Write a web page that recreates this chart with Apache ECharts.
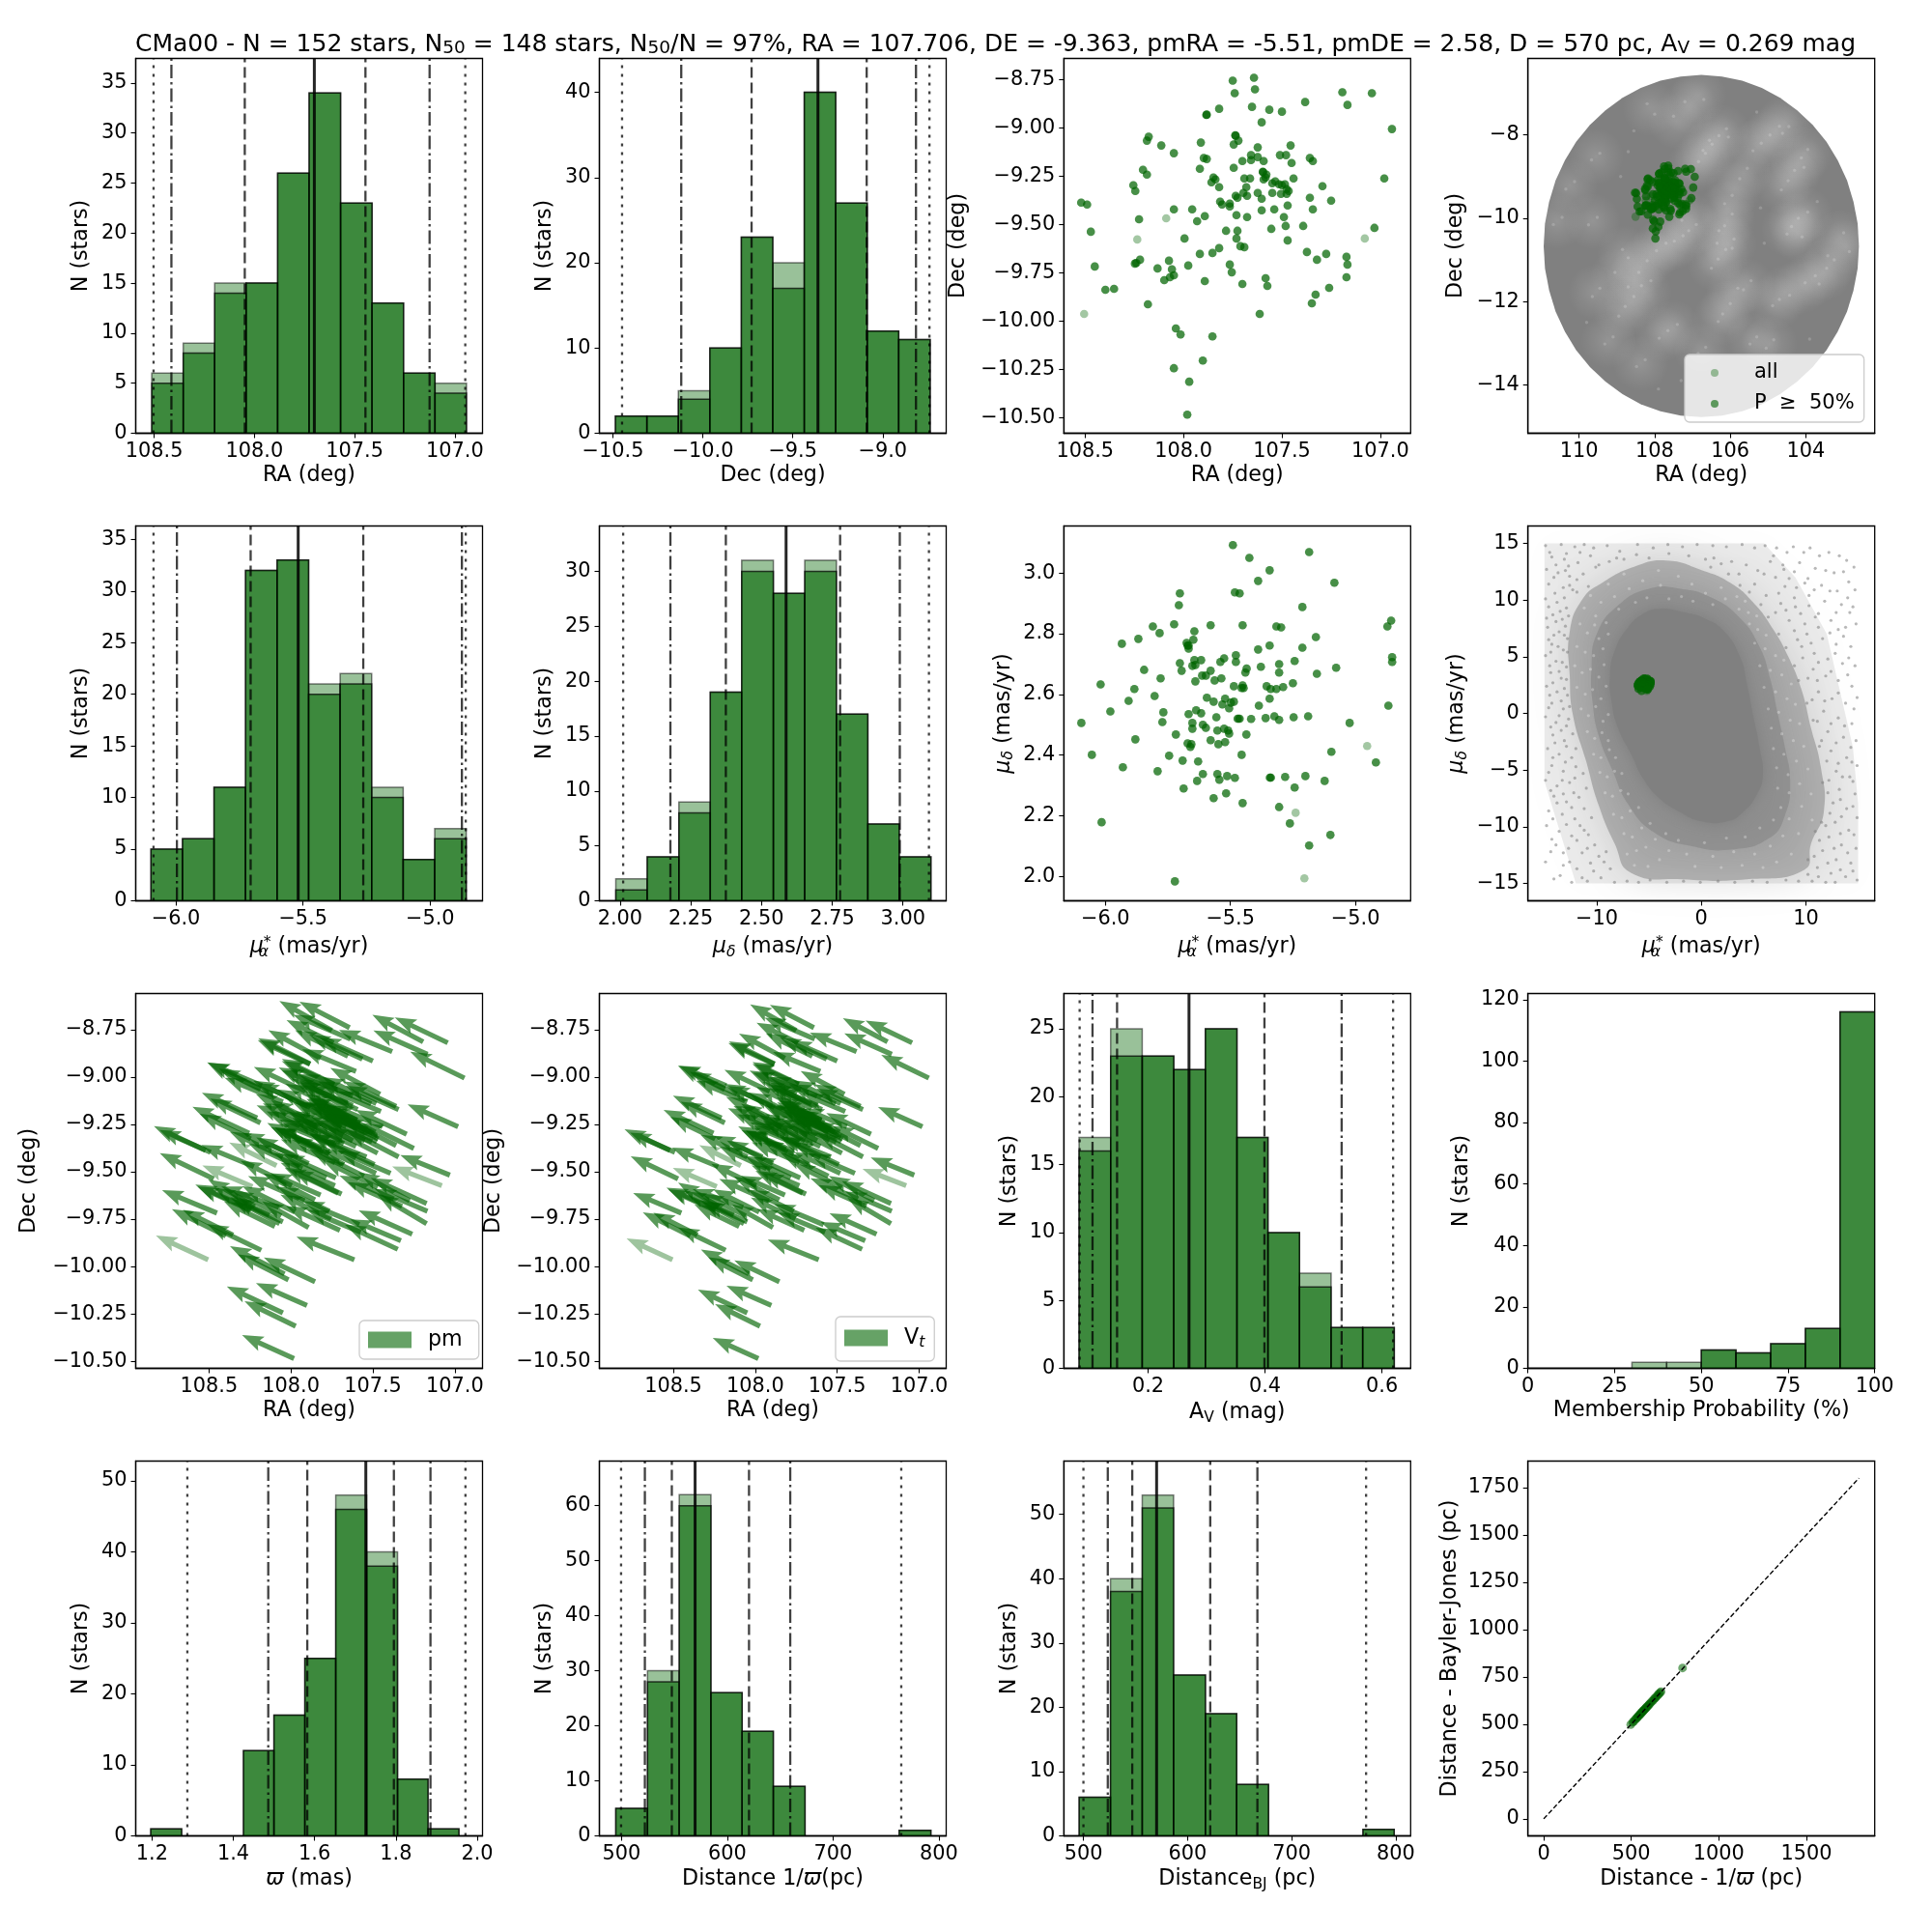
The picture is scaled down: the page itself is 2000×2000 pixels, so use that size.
<!DOCTYPE html>
<html><head><meta charset="utf-8">
<style>html,body{margin:0;padding:0;background:#fff}#c{width:2000px;height:2000px}</style>
<script src="https://cdn.jsdelivr.net/npm/echarts@6/dist/echarts.min.js"></script>
</head><body><div id="c"></div>
<script>
// ---------- stars (P >= 50%)
const raP=[107.750,107.642,107.637,107.740,107.193,107.043,107.167,107.382,107.652,107.564,107.500,107.819,107.882,107.884,107.603,106.941,107.737,107.735,107.721,107.745,107.912,108.177,108.186,108.113,108.049,107.623,107.456,107.657,107.623,107.657,107.701,107.593,107.510,107.479,107.358,107.343,107.451,107.897,107.882,107.917,107.745,108.206,108.186,107.597,107.596,107.579,107.583,107.593,107.691,107.662,107.848,107.838,107.858,107.819,107.441,107.534,107.549,107.515,107.500,107.485,107.294,106.980,108.255,108.245,107.681,107.696,107.677,107.735,107.726,107.623,107.603,107.549,107.505,107.476,107.466,107.476,107.358,107.250,108.520,108.490,107.814,107.804,107.765,107.765,107.471,107.603,107.539,107.343,108.049,107.956,108.226,107.892,107.931,107.731,107.677,107.490,107.481,107.392,107.554,107.784,107.726,107.030,108.471,107.995,107.731,107.471,107.711,107.691,107.819,107.853,107.917,107.373,107.275,107.172,107.322,107.167,108.221,108.240,108.247,108.074,107.976,107.765,108.451,108.132,108.059,107.755,108.049,108.069,108.098,107.583,107.172,107.892,107.701,107.574,108.397,108.353,107.260,107.329,108.181,107.348,107.613,108.039,108.015,107.853,107.902,108.049,107.971,107.981];
const deP=[-8.755,-8.740,-8.800,-8.820,-8.815,-8.820,-8.881,-8.866,-8.891,-8.906,-8.916,-8.901,-8.931,-8.933,-8.971,-9.006,-9.038,-9.041,-9.066,-9.086,-9.076,-9.046,-9.066,-9.091,-9.131,-9.101,-9.091,-9.141,-9.151,-9.167,-9.172,-9.172,-9.141,-9.141,-9.156,-9.172,-9.182,-9.156,-9.161,-9.212,-9.207,-9.217,-9.242,-9.227,-9.229,-9.242,-9.257,-9.267,-9.262,-9.262,-9.257,-9.267,-9.282,-9.307,-9.262,-9.277,-9.287,-9.292,-9.297,-9.292,-9.302,-9.262,-9.297,-9.327,-9.307,-9.337,-9.352,-9.352,-9.362,-9.337,-9.367,-9.337,-9.342,-9.342,-9.327,-9.317,-9.362,-9.377,-9.387,-9.397,-9.382,-9.397,-9.392,-9.407,-9.402,-9.427,-9.422,-9.422,-9.422,-9.422,-9.473,-9.457,-9.483,-9.452,-9.462,-9.462,-9.508,-9.508,-9.523,-9.533,-9.533,-9.518,-9.538,-9.573,-9.573,-9.583,-9.613,-9.618,-9.623,-9.648,-9.653,-9.643,-9.653,-9.668,-9.683,-9.708,-9.683,-9.700,-9.703,-9.688,-9.713,-9.708,-9.718,-9.728,-9.733,-9.748,-9.764,-9.774,-9.789,-9.779,-9.774,-9.794,-9.809,-9.819,-9.839,-9.834,-9.829,-9.864,-9.914,-9.909,-9.964,-10.039,-10.070,-10.080,-10.205,-10.245,-10.315,-10.486];
const raL=[108.088,108.235,107.079,108.505];
const deL=[-9.468,-9.578,-9.573,-9.964];
// ---------- proper motions
const pmaP=[-5.490,-5.424,-5.185,-5.343,-5.389,-5.084,-5.482,-5.463,-5.702,-5.706,-5.212,-5.810,-5.783,-5.725,-5.579,-5.451,-5.316,-5.297,-5.644,-4.857,-4.872,-5.648,-5.675,-5.671,-5.667,-5.868,-5.934,-5.158,-5.343,-5.389,-5.212,-5.478,-5.525,-5.617,-5.644,-5.540,-5.478,-5.702,-5.640,-5.652,-5.305,-5.243,-5.378,-4.853,-4.853,-5.845,-5.695,-5.579,-5.435,-5.440,-5.305,-5.077,-5.154,-5.779,-5.613,-5.598,-5.563,-5.536,-5.640,-5.250,-6.019,-5.884,-5.486,-5.451,-5.455,-5.447,-5.355,-5.339,-5.316,-5.289,-5.907,-5.803,-5.594,-5.567,-5.521,-5.532,-5.498,-5.486,-5.505,-5.343,-5.386,-4.868,-5.980,-5.768,-5.637,-5.617,-5.667,-5.556,-5.471,-5.463,-5.417,-5.359,-5.324,-5.305,-5.247,-5.189,-6.096,-5.772,-5.652,-5.610,-5.598,-5.652,-5.525,-5.552,-5.509,-5.505,-5.718,-5.436,-5.023,-5.880,-5.579,-5.671,-5.656,-5.660,-5.548,-5.521,-6.054,-5.455,-5.745,-5.096,-5.691,-5.629,-5.930,-4.918,-5.791,-5.610,-5.552,-5.513,-5.544,-5.482,-5.633,-5.342,-5.338,-5.281,-5.200,-5.123,-5.243,-5.687,-5.517,-5.567,-5.451,-5.305,-5.262,-6.015,-5.100,-5.185,-5.722,-5.667];
const pmdP=[3.092,3.050,3.069,3.009,2.974,2.968,2.936,2.933,2.933,2.894,2.888,2.824,2.802,2.831,2.828,2.828,2.824,2.821,2.808,2.843,2.824,2.780,2.770,2.761,2.751,2.783,2.767,2.789,2.761,2.748,2.754,2.729,2.719,2.713,2.713,2.707,2.707,2.703,2.697,2.694,2.700,2.710,2.691,2.723,2.707,2.681,2.678,2.678,2.685,2.672,2.672,2.688,2.668,2.653,2.662,2.662,2.646,2.653,2.643,2.637,2.633,2.618,2.627,2.630,2.621,2.621,2.627,2.618,2.618,2.624,2.579,2.595,2.589,2.576,2.586,2.567,2.573,2.576,2.554,2.586,2.563,2.563,2.544,2.541,2.548,2.538,2.535,2.525,2.520,2.520,2.519,2.522,2.528,2.516,2.525,2.528,2.506,2.509,2.506,2.500,2.490,2.487,2.487,2.481,2.481,2.471,2.468,2.468,2.506,2.452,2.449,2.439,2.436,2.427,2.436,2.443,2.401,2.401,2.398,2.411,2.382,2.379,2.360,2.376,2.347,2.338,2.338,2.331,2.319,2.325,2.315,2.326,2.326,2.328,2.331,2.315,2.293,2.290,2.274,2.258,2.242,2.229,2.175,2.179,2.137,2.102,1.984,2.761];
const pmaL=[-4.953,-5.239,-5.204,-5.467];
const pmdL=[2.430,2.210,1.994,2.520];
// ---------- histograms: bin edges, counts for all stars, counts for P >= 50%, marker lines
const raEdges=[108.512,108.355,108.198,108.041,107.884,107.727,107.570,107.413,107.256,107.099,106.942];
const raAll=[6,9,15,15,26,34,23,13,6,5];
const raP50=[5,8,14,15,26,34,23,13,6,4];
const raLines=[108.503,108.414,108.048,107.701,107.446,107.126,106.948];
const deEdges=[-10.486,-10.311,-10.136,-9.961,-9.786,-9.611,-9.436,-9.261,-9.086,-8.911,-8.736];
const deAll=[2,2,5,10,23,20,40,27,12,11];
const deP50=[2,2,4,10,23,17,40,27,12,11];
const deLines=[-10.449,-10.120,-9.729,-9.360,-9.089,-8.815,-8.740];
const pmaEdges=[-6.098,-5.974,-5.850,-5.726,-5.602,-5.478,-5.354,-5.230,-5.106,-4.982,-4.858];
const pmaAll=[5,6,11,32,33,21,22,11,4,7];
const pmaP50=[5,6,11,32,33,20,21,10,4,6];
const pmaLines=[-6.088,-5.996,-5.706,-5.519,-5.263,-4.875,-4.860];
const pmdEdges=[1.985,2.096,2.208,2.319,2.430,2.542,2.653,2.765,2.876,2.987,3.099];
const pmdAll=[2,4,9,19,31,28,31,17,7,4];
const pmdP50=[1,4,8,19,30,28,30,17,7,4];
const pmdLines=[2.011,2.178,2.374,2.587,2.778,2.989,3.092];
const avEdges=[0.082,0.136,0.190,0.244,0.298,0.352,0.405,0.459,0.513,0.567,0.621];
const avAll=[17,25,23,22,25,17,10,7,3,3];
const avP50=[16,23,23,22,25,17,10,6,3,3];
const avLines=[0.083,0.105,0.147,0.270,0.399,0.531,0.619];
const probEdges=[0,10,20,30,40,50,60,70,80,90,100];
const probAll=[0,0,0,2,2,6,5,8,13,116];
const probP50=[0,0,0,0,0,6,5,8,13,116];
const plxEdges=[1.197,1.273,1.349,1.425,1.500,1.576,1.652,1.728,1.804,1.879,1.955];
const plxAll=[1,0,0,12,17,25,48,40,8,1];
const plxP50=[1,0,0,12,17,25,46,38,8,1];
const plxLines=[1.287,1.486,1.582,1.726,1.795,1.885,1.971];
const d1Edges=[494.5,524.5,554.5,584.5,614,643.5,673.5,703.5,733,762.5,792.5];
const d1All=[5,30,62,26,19,9,0,0,0,1];
const d1P50=[5,28,60,26,19,9,0,0,0,1];
const d1Lines=[499.5,522,547.5,569.5,620.5,659.5,764.5];
const dbjEdges=[495.9,526.0,556.5,586.6,617.2,647.2,677.8,707.8,738.4,768.5,798.5];
const dbjAll=[6,40,53,25,19,8,0,0,0,1];
const dbjP50=[6,38,51,25,19,8,0,0,0,1];
const dbjLines=[500,523.4,546.9,570.3,621.8,667.1,771.5];
// ---------- distance comparison
const distPlx=[497,508,514,522,528,534,538,543,547,551,555,558,561,565,569,572,576,580,584,589,594,599,604,610,618,625,632,638,645,652,658,664,670,793];
const distBJ=[498,510,515,524,530,535,540,545,549,552,557,560,563,567,571,574,578,582,586,591,596,601,606,612,620,627,634,640,647,654,660,666,672,797];
const oneToOne=[0,1800];
// ---------- background field: outline of the full sample (RA, Dec), light filaments
const fieldRA=[102.596,102.630,102.740,102.911,103.157,103.455,103.821,104.230,104.681,105.166,105.685,106.221,106.766,107.311,107.847,108.366,108.851,109.302,109.711,110.077,110.375,110.621,110.792,110.902,110.936,110.902,110.792,110.621,110.375,110.077,109.711,109.302,108.851,108.366,107.847,107.311,106.766,106.221,105.685,105.166,104.681,104.230,103.821,103.455,103.157,102.911,102.740,102.630];
const fieldDE=[-10.667,-10.132,-9.605,-9.093,-8.613,-8.163,-7.760,-7.411,-7.109,-6.869,-6.698,-6.597,-6.558,-6.597,-6.698,-6.869,-7.109,-7.411,-7.760,-8.163,-8.613,-9.093,-9.605,-10.132,-10.667,-11.202,-11.729,-12.241,-12.721,-13.171,-13.574,-13.923,-14.225,-14.465,-14.636,-14.737,-14.776,-14.737,-14.636,-14.465,-14.225,-13.923,-13.574,-13.171,-12.721,-12.241,-11.729,-11.202];
const filRA=[106.196,106.409,106.579,106.749,106.919,107.089,106.834,107.430,108.111,104.536,104.791,105.047,105.302,104.026,104.196,104.366,104.579,105.643,105.898,106.068,106.068,106.196,106.026,106.238,106.409,107.345,107.600,107.855,108.111,108.366,108.536,108.281,108.621,108.877,107.004,107.175,104.281,104.451,104.196,104.026,103.855,103.515,104.111,104.536,104.791,105.898,106.068,106.238,105.558,108.962,108.792,103.089,102.919,103.345,105.387,104.962,106.749,108.366,107.515,107.770,109.217,109.557,109.557,110.238,110.579,109.643];
const filDE=[-7.938,-8.132,-8.326,-8.558,-8.713,-7.318,-7.047,-7.667,-7.357,-7.706,-7.899,-8.093,-8.287,-8.442,-8.675,-8.985,-9.217,-8.907,-9.295,-9.760,-10.070,-10.380,-10.613,-10.845,-11.078,-10.496,-10.613,-10.690,-10.923,-11.155,-11.465,-11.775,-12.008,-12.240,-10.225,-9.992,-10.070,-10.264,-10.380,-9.915,-11.465,-11.310,-11.620,-11.775,-12.008,-11.775,-12.163,-12.395,-11.620,-11.388,-10.845,-10.458,-10.690,-11.078,-12.938,-13.016,-13.171,-13.481,-12.628,-12.783,-12.938,-11.775,-8.520,-9.217,-10.070,-10.070];
const fieldSpecks=[[106.10,-7.85],[106.30,-8.02],[106.48,-8.22],[106.66,-8.44],[106.84,-8.64],[106.05,-8.05],[106.55,-8.13],[106.72,-8.37],[106.98,-8.82],[107.2,-7.2],[106.7,-7.15],[107.5,-7.55],[108.2,-7.25],[108.0,-7.5],[104.45,-7.8],[104.7,-7.79],[104.95,-8.0],[105.18,-8.2],[105.4,-8.38],[104.62,-7.96],[103.95,-8.35],[104.12,-8.55],[104.3,-8.85],[104.47,-9.1],[104.65,-9.32],[104.05,-8.78],[105.55,-8.8],[105.75,-9.05],[105.95,-9.45],[106.15,-9.65],[105.95,-9.9],[106.15,-10.18],[106.3,-10.3],[105.9,-10.5],[106.12,-10.75],[106.32,-10.98],[106.5,-11.2],[105.95,-10.72],[106.35,-10.6],[107.25,-10.42],[107.48,-10.55],[107.7,-10.6],[107.95,-10.78],[108.2,-11.02],[108.42,-11.3],[108.1,-11.5],[108.35,-11.62],[108.55,-11.88],[108.78,-12.12],[108.95,-12.35],[108.7,-11.65],[107.1,-10.3],[106.9,-10.15],[107.28,-10.05],[104.2,-10.0],[104.38,-10.2],[104.1,-10.45],[104.5,-10.38],[103.95,-9.85],[103.75,-11.38],[103.45,-11.2],[104.02,-11.55],[104.43,-11.85],[104.7,-11.95],[104.88,-12.1],[103.65,-11.58],[105.8,-11.68],[106.0,-12.05],[106.2,-12.3],[106.32,-12.48],[105.65,-11.72],[105.45,-11.5],[109.05,-11.3],[108.85,-10.75],[108.7,-10.95],[103.0,-10.35],[102.85,-10.8],[103.25,-11.0],[103.42,-10.9],[105.3,-12.85],[105.48,-13.02],[104.85,-12.92],[105.05,-13.12],[106.65,-13.1],[106.85,-13.25],[108.25,-13.4],[108.48,-13.56],[107.4,-12.55],[107.65,-12.7],[107.88,-12.88],[109.1,-12.85],[109.32,-13.02],[109.45,-11.68],[109.65,-11.88],[109.45,-8.44],[109.67,-8.6],[110.12,-9.12],[110.35,-9.3],[110.45,-9.98],[110.68,-10.15],[109.52,-9.98],[109.75,-10.16],[108.9,-9.0],[108.7,-8.4],[105.2,-9.75],[105.1,-10.6],[104.9,-13.7],[107.9,-14.1],[109.8,-12.5],[103.9,-12.9],[105.3,-7.45],[103.7,-9.6],[108.55,-7.9],[107.3,-13.9]];
// ---------- background pm cloud: density outlines and sparse stars
const coreX=[-3.97,-1.82,0.34,2.18,3.72,4.34,4.95,5.57,5.88,5.26,4.03,2.49,0.03,-2.12,-3.97,-5.51,-6.74,-7.97,-8.58,-8.74,-8.28,-7.05,-5.51];
const coreY=[9.23,8.95,8.38,7.24,4.97,2.70,-0.14,-2.98,-5.54,-7.24,-8.66,-9.52,-9.52,-8.66,-7.53,-5.82,-3.55,-1.28,0.99,3.27,5.54,7.53,8.81];
const innerX=[-8,-5,-2,1,3.6,5.5,6.6,7.3,8,8.5,8,6.5,3,-1,-4.5,-7,-8.5,-9.8,-10.4,-10.5,-10];
const innerY=[9.5,11,11,10.2,8.5,6,3,0,-3,-6,-9,-11,-12,-11.7,-10.5,-8,-5,-2,1,4,7];
const midX=[-9.51,-6.43,-3.35,0.03,2.80,4.95,6.80,8.34,9.57,10.49,11.42,11.72,10.49,9.88,4.34,-1.82,-6.74,-8.28,-9.82,-11.05,-12.28,-12.58,-12.58,-11.35];
const midY=[11.51,12.93,13.49,12.64,11.51,9.80,7.53,4.97,2.13,-1.28,-4.69,-8.66,-11.51,-13.78,-14.63,-14.63,-14.06,-11.51,-8.10,-4.12,-0.14,3.27,7.24,10.09];
const outerX=[-15,6,9,12,13,14.5,15,15,13,-12,-15];
const outerY=[15,15,12,7,3,-3,-8,-15,-15,-15,-6];
const sparseStars=[[6.1,14.8],[7.2,14.6],[8.8,14.7],[10.4,14.6],[12.2,14.2],[13.9,13.5],[14.6,12.9],[6.6,13.4],[7.8,13.1],[9.4,13.3],[10.9,12.8],[12.7,12.4],[14.1,11.6],[6.0,12.3],[7.1,12.0],[8.4,11.9],[9.9,11.5],[11.5,11.3],[13.0,10.8],[14.7,10.9],[7.4,10.6],[8.9,10.2],[10.3,10.4],[11.8,9.9],[13.4,9.6],[14.2,8.9],[8.1,9.1],[9.5,8.8],[10.9,8.5],[12.4,8.2],[13.8,7.6],[14.8,7.9],[8.9,7.3],[10.1,7.0],[11.6,6.6],[12.9,6.1],[14.3,5.9],[9.6,5.9],[10.8,5.3],[12.1,4.8],[13.5,4.4],[14.7,4.2],[10.7,3.9],[11.9,3.3],[13.1,2.9],[14.4,2.4],[11.2,1.9],[12.5,1.3],[13.8,0.9],[14.9,1.4],[11.7,0.2],[13.1,-0.4],[14.4,-0.9],[12.1,-1.6],[13.6,-2.1],[14.8,-2.4],[12.4,-3.3],[13.9,-3.9],[14.9,-4.6],[12.9,-5.1],[14.2,-5.6],[13.2,-6.7],[14.7,-7.1],[12.6,-7.9],[13.9,-8.4],[14.9,-9.2],[12.8,-9.6],[14.1,-10.3],[12.2,-10.9],[13.4,-11.6],[14.8,-11.9],[11.6,-12.1],[12.9,-12.9],[14.3,-13.2],[11.1,-13.6],[12.4,-14.1],[13.8,-14.4],[14.9,-14.7],[10.6,-14.8],[11.9,-14.9],[12.8,-14.9],
[-14.9,14.8],[-13.4,14.9],[-12.1,14.7],[-11.2,14.9],[-10.3,14.6],[-14.3,13.8],[-13.1,13.6],[-11.8,13.3],[-10.6,13.9],[-14.8,12.7],[-13.7,12.4],[-12.6,12.1],[-11.3,12.3],[-10.1,12.9],[-14.6,11.4],[-13.2,11.1],[-12.3,10.9],[-14.9,10.1],[-13.8,9.8],[-12.9,9.3],[-14.2,8.7],[-13.3,8.3],[-14.7,7.6],[-13.6,7.2],[-12.8,6.6],[-14.3,6.1],[-13.2,5.6],[-14.9,5.1],[-13.9,4.6],[-12.9,4.1],[-14.4,3.6],[-13.4,3.1],[-14.8,2.4],[-13.8,1.9],[-12.8,1.6],[-14.3,0.9],[-13.2,0.4],[-14.9,-0.3],[-13.9,-0.8],[-12.9,-1.1],[-14.2,-1.9],[-13.1,-2.4],[-14.7,-3.1],[-13.6,-3.6],[-12.4,-3.9],[-14.3,-4.6],[-13.2,-5.1],[-14.9,-5.9],[-13.8,-6.4],[-12.6,-6.1],[-14.1,-7.3],[-12.9,-7.8],[-11.7,-7.4],[-14.6,-8.6],[-13.3,-8.9],[-12.1,-9.3],[-14.8,-9.9],[-13.6,-10.4],[-12.4,-10.8],[-11.2,-10.3],[-13.9,-11.6],[-12.7,-11.9],[-11.4,-12.3],[-10.2,-11.6],[-14.9,-13.1],[-13.2,-13.4],[-11.9,-13.7],[-10.6,-13.2],[-9.3,-13.1],[-14.1,-14.6],[-12.4,-14.9],[-10.9,-14.8],[-9.6,-14.5],[-8.3,-14.9],[-7.1,-14.8],
[-9,14.8],[-7.8,14.3],[-6.1,14.9],[-4.6,14.6],[-3.2,14.9],[-1.8,14.7],[-0.4,14.9],[1.1,14.8],[2.4,14.7],[3.9,14.9],[5.1,14.6],[1.2,13.7],[2.9,13.4],[4.3,13.1],[5.4,12.6],[-8.8,13.4],[-7.4,13.6],[3.6,12.3],[5.1,11.4],[6.2,10.4],[7.1,8.9],
[-14.5,14.2],[-13.9,13.1],[-12.7,13.0],[-12.9,14.1],[-11.6,14.2],[-14.1,12.0],[-13.0,12.6],[-11.9,11.8],[-12.6,11.3],[-14.0,10.6],[-13.1,10.2],[-11.9,10.7],[-14.6,9.4],[-13.5,9.0],[-12.7,8.6],[-13.9,8.1],[-14.8,8.4],[-13.0,7.7],[-14.1,6.9],[-13.1,6.9],[-14.6,6.5],[-13.7,5.9],[-12.8,5.4],[-14.4,5.4],[-13.3,4.5],[-14.5,4.2],[-13.6,3.7],[-12.9,3.0],[-14.2,2.7],[-13.1,2.2],[-14.5,1.6],[-13.4,1.1],[-12.6,0.6],[-14.6,0.5],[-13.6,-0.2],[-12.7,-0.5],[-14.4,-1.2],[-13.4,-1.5],[-12.3,-1.8],[-14.0,-2.6],[-12.9,-2.9],[-12.0,-3.1],[-14.2,-3.9],[-13.0,-4.3],[-12.0,-4.7],[-11.3,-5.3],[-14.6,-5.2],[-13.3,-5.9],[-12.1,-5.7],[-14.4,-6.8],[-13.2,-7.1],[-12.2,-7.0],[-11.0,-6.6],[-13.8,-7.9],[-12.4,-8.3],[-11.2,-8.4],[-10.5,-9.2],[-14.2,-9.3],[-12.9,-9.8],[-11.6,-9.9],[-10.8,-10.7],[-14.3,-11.1],[-13.2,-12.3],[-11.9,-11.2],[-10.9,-11.9],[-9.8,-12.6],[-14.4,-12.2],[-12.6,-13.1],[-10.3,-13.9],[-9.1,-12.2],[-13.5,-14.3],[-11.4,-14.5],[-8.7,-13.7],
[6.9,13.9],[8.2,14.2],[9.8,14.2],[11.3,13.9],[13.2,13.9],[7.9,12.7],[8.9,12.5],[10.2,11.9],[11.9,12.6],[13.6,12.5],[8.0,11.2],[9.1,11.1],[10.8,10.9],[12.3,10.8],[14.0,10.2],[7.6,9.7],[9.0,9.4],[10.3,9.5],[11.2,8.8],[12.9,8.9],[14.5,9.4],[8.4,8.2],[9.9,7.9],[11.2,7.6],[13.1,7.4],[9.2,6.5],[10.5,6.2],[12.3,7.1],[13.6,6.8],[9.7,4.9],[11.2,4.5],[12.8,5.3],[14.1,4.9],[10.2,3.1],[11.1,2.9],[12.4,3.7],[14.0,3.4],[10.6,1.2],[11.8,1.1],[13.1,1.8],[14.6,0.4],[11.1,-0.7],[12.4,-0.9],[13.7,-1.1],[11.5,-2.4],[12.9,-2.6],[14.3,-3.0],[12.0,-4.2],[13.1,-4.4],[14.4,-4.3],[12.2,-5.9],[13.5,-5.6],[12.1,-7.0],[13.3,-7.6],[14.5,-6.0],[12.3,-8.8],[13.4,-9.1],[14.5,-8.2],[11.9,-9.9],[13.3,-10.6],[14.6,-10.7],[11.3,-11.2],[12.7,-11.9],[14.0,-12.3],[10.8,-12.6],[12.1,-13.2],[13.3,-13.8],[14.5,-13.9],[10.2,-14.2],[9.3,-14.8],[8.1,-14.7],[11.2,-14.4],
[-6.2,14.0],[-5.0,13.7],[-3.1,14.1],[-1.2,13.9],[0.4,13.6],[1.9,13.2],[-8.1,13.7],[-9.8,13.1],[-10.8,11.2],[0.9,12.9],[2.6,12.3],[3.7,11.3],[4.6,10.7],[5.7,9.6],[6.4,8.5],[7.4,7.0],[8.1,5.8],[8.9,4.2],[9.3,2.9],[10.1,0.9],[10.7,-0.6],[11.3,-2.9],[11.6,-6.1],[11.5,-9.6],[10.9,-10.4],[10.2,-12.9],[6.3,-14.9],[4.9,-14.8],[3.2,-14.9],[1.6,-14.8],[-0.1,-14.9],[-1.7,-14.8],[-3.3,-14.9],[-4.9,-14.7],[-6.0,-14.9]];
const gapSpecks=[[-11.2,9.3],[-10.6,10.4],[-10.1,8.6],[-9.6,9.8],[-11.6,7.9],[-10.9,7.1],[-10.2,7.8],[-9.8,6.6],[-9.1,8.0],[-11.9,5.9],[-11.1,5.4],[-10.3,5.1],[-9.4,5.7],[-12.1,4.2],[-11.4,3.6],[-10.6,3.9],[-9.8,3.2],[-9.3,4.3],[-11.9,2.3],[-11.1,1.7],[-10.4,2.1],[-9.6,1.3],[-9.1,2.4],[-11.5,0.4],[-10.8,-0.2],[-10.1,0.6],[-9.4,-0.7],[-8.9,-0.1],[-10.9,-1.6],[-10.2,-2.2],[-9.5,-1.7],[-8.9,-2.4],[-10.3,-3.6],[-9.6,-3.9],[-8.8,-3.2],[-8.2,-3.9],[-9.7,-5.2],[-9.0,-5.6],[-8.3,-5.1],[-7.6,-5.3],[-9.2,-7.0],[-8.5,-7.3],[-7.7,-6.8],[-7.0,-7.1],[-8.4,-8.9],[-7.6,-9.2],[-6.8,-8.6],[-6.0,-8.3],[-7.4,-10.6],[-6.6,-10.9],[-5.7,-10.1],[-4.9,-9.7],[-7.1,-12.4],[-6.2,-12.1],[-5.3,-11.8],[-4.4,-11.1],[-6.4,-13.4],[-5.1,-13.5],[-4.0,-12.9],[-3.1,-12.1],[-3.4,-10.6],
[-2.2,-11.2],[-1.4,-12.4],[-0.6,-13.5],[0.3,-11.4],[1.1,-12.6],[1.9,-13.6],[2.4,-11.0],[3.1,-12.2],[3.9,-13.4],[4.2,-10.9],[5.1,-12.4],[5.9,-13.6],[5.6,-10.1],[6.6,-11.7],[7.2,-13.1],[6.9,-9.4],[7.8,-10.8],[8.6,-12.4],[7.6,-8.3],[8.4,-9.3],[9.3,-10.6],[7.3,-6.6],[8.4,-7.0],[9.6,-8.2],[10.6,-9.4],
[7.2,-4.8],[8.3,-5.4],[9.4,-6.2],[10.5,-7.1],[6.9,-3.1],[7.9,-3.6],[9.1,-4.2],[10.2,-4.9],[6.7,-1.3],[7.7,-1.8],[8.8,-2.4],[9.8,-2.9],[6.4,0.4],[7.4,0.1],[8.5,-0.6],[9.4,-0.9],[6.0,2.3],[7.1,1.9],[8.2,1.3],[9.0,0.8],[5.6,4.2],[6.6,3.8],[7.7,3.4],[8.6,2.6],[5.1,6.2],[6.1,5.7],[7.1,5.1],[7.9,4.7],[4.6,7.9],[5.4,7.4],[6.2,6.9],[3.6,9.2],[4.5,8.9],[5.3,8.6],[2.3,10.1],[3.4,10.3],[4.2,9.9],
[1.1,9.6],[1.9,11.1],[0.4,10.6],[-0.8,9.9],[-0.9,11.4],[-1.9,10.3],[-2.2,12.1],[-3.1,10.1],[-3.9,11.3],[-4.1,12.6],[-5.2,10.2],[-5.6,11.7],[-6.3,9.8],[-6.9,11.0],[-7.4,12.3],[-7.9,9.2],[-8.3,10.3],[-8.9,11.4],[-8.9,7.0]];
// ---------- tick positions
const raHistTicks=[108.5,108,107.5,107], deHistTicks=[-10.5,-10,-9.5,-9];
const raTicks=[108.5,108,107.5,107], deTicks=[-8.75,-9,-9.25,-9.5,-9.75,-10,-10.25,-10.5];

const F='"DejaVu Sans"', FS=20.83, NS=22.2, K='#000';
const GREEN='0,100,0';
const rich={
  t:{fontFamily:F,fontSize:NS,lineHeight:26,color:K},
  i:{fontFamily:F,fontSize:NS,fontStyle:'italic',lineHeight:26,color:K},
  s:{fontFamily:F,fontSize:15.5,verticalAlign:'bottom',lineHeight:18,color:K},
  si:{fontFamily:F,fontSize:15.5,fontStyle:'italic',verticalAlign:'bottom',lineHeight:18,color:K},
  z:{fontFamily:F,fontSize:15.5,fontStyle:'italic',verticalAlign:'bottom',lineHeight:18,color:K,width:0},
  u:{fontFamily:F,fontSize:15.5,fontStyle:'italic',verticalAlign:'top',lineHeight:18,color:K}
};
const nRA='{t|RA (deg)}', nDE='{t|Dec (deg)}', nN='{t|N (stars)}';
const nPMA='{i|μ}{z|α}{u|*}{t| (mas/yr)}', nPMD='{i|μ}{si|δ}{t| (mas/yr)}';

const lefts=[140.5,620.5,1101.3,1581.7], tops=[60.5,544.5,1028.5,1512.5], W=359, H=388;
const grid=[],xAxis=[],yAxis=[],series=[],legend=[];
function fmt(d){return v=>Number(v).toFixed(d).replace('-','−');}
function axis(gi,o,isX){
  return {gridIndex:gi,type:'value',min:o.min,max:o.max,inverse:!!o.inv,scale:true,
    name:o.name,nameLocation:'middle',nameGap:o.gap,nameRotate:isX?0:90,
    nameTextStyle:{fontFamily:F,fontSize:NS,color:K,rich},
    axisLine:{show:true,onZero:false,lineStyle:{color:K,width:1.3}},
    axisTick:{show:true,length:5,inside:false,lineStyle:{color:K,width:1.1},customValues:o.ticks},
    axisLabel:{show:true,margin:9,fontFamily:F,fontSize:FS,color:K,customValues:o.ticks,formatter:fmt(o.dec||0),hideOverlap:false,showMinLabel:true,showMaxLabel:true},
    splitLine:{show:false},minorTick:{show:false}};
}
function panel(r,c,x,y){
  const gi=grid.length;
  grid.push({left:lefts[c],top:tops[r],width:W,height:H,show:true,borderColor:K,borderWidth:1.3,backgroundColor:'#fff'});
  xAxis.push(axis(gi,Object.assign({gap:31},x),true));
  yAxis.push(axis(gi,y,false));
  return gi;
}
function histLayer(gi,edges,counts,alpha,z,keepZero){
  const data=[];
  counts.forEach((n,i)=>{if(n>0||keepZero)data.push([edges[i],edges[i+1],n]);});
  series.push({type:'custom',xAxisIndex:gi,yAxisIndex:gi,z,silent:true,clip:true,animation:false,data,encode:{x:[0,1],y:2},
    renderItem:(p,api)=>{
      const a=api.coord([api.value(0),api.value(2)]),b=api.coord([api.value(1),0]);
      return {type:'rect',shape:{x:Math.min(a[0],b[0]),y:a[1],width:Math.abs(b[0]-a[0]),height:b[1]-a[1]},
        style:{fill:`rgba(${GREEN},${alpha})`,stroke:`rgba(0,0,0,${alpha+0.1})`,lineWidth:1.5}};
    }});
}
const lineKinds=[[3,6],[14,4,2.5,4],[11,5],null,[11,5],[14,4,2.5,4],[3,6]];
function vlines(gi,vals,ymax){
  vals.forEach((v,i)=>{
    const k=lineKinds[i];
    series.push({type:'line',xAxisIndex:gi,yAxisIndex:gi,z:6,silent:true,symbol:'none',animation:false,
      data:[[v,0],[v,ymax]],
      lineStyle:{color:i===3?'rgba(0,0,0,0.85)':'rgba(0,0,0,0.75)',width:i===3?3:2.3,type:k||'solid'}});
  });
}
function hist(r,c,edges,all,p50,lines,x,ymax,yticks,yname,ygap){
  const gi=panel(r,c,x,{min:0,max:ymax,ticks:yticks,dec:0,name:yname||nN,gap:ygap||43});
  histLayer(gi,edges,all,0.4,3,!lines);
  histLayer(gi,edges,p50,0.6,4,false);
  if(lines)vlines(gi,lines,ymax);
  return gi;
}
function dots(gi,xs,ys,alpha,z,name,size){
  series.push({type:'scatter',name,xAxisIndex:gi,yAxisIndex:gi,z,silent:true,animation:false,
    symbol:'circle',symbolSize:size||8.6,data:xs.map((v,i)=>[v,ys[i]]),
    itemStyle:{color:`rgba(${GREEN},${alpha})`,borderWidth:0}});
}
function poly(gi,xs,ys,fill,z,smooth,blur){
  series.push({type:'custom',xAxisIndex:gi,yAxisIndex:gi,z,silent:true,animation:false,data:[[xs[0],ys[0]]],
    encode:{x:0,y:1},
    renderItem:(p,api)=>({type:'polygon',shape:{points:xs.map((v,i)=>api.coord([v,ys[i]])),smooth:smooth||0},
      style:{fill,shadowBlur:blur||0,shadowColor:fill}})});
}
function specks(gi,pts,color,size,z){
  series.push({type:'scatter',xAxisIndex:gi,yAxisIndex:gi,z,silent:true,animation:false,symbolSize:size,data:pts,itemStyle:{color}});
}
function arrows(gi,ra,de,pma,pmd,alpha,k,name,z,perm){
  const data=ra.map((v,i)=>{const j=perm?perm(i):i;return [v,de[i],pma[j],pmd[j]];});
  series.push({type:'custom',name,xAxisIndex:gi,yAxisIndex:gi,z,silent:true,animation:false,clip:true,data,
    encode:{x:0,y:1},itemStyle:{color:`rgba(${GREEN},0.6)`},
    renderItem:(p,api)=>{
      const t=api.coord([api.value(0),api.value(1)]);
      const dx=api.value(2)*k,dy=-api.value(3)*k,L=Math.hypot(dx,dy),ux=dx/L,uy=dy/L,nx=-uy,ny=ux;
      const w=2.6,hw=8,hl=22,ha=19;
      const P=(a,b)=>[t[0]+ux*a+nx*b,t[1]+uy*a+ny*b];
      return {type:'polygon',shape:{points:[P(0,w),P(L-ha,w),P(L-hl,hw),P(L,0),P(L-hl,-hw),P(L-ha,-w),P(0,-w)]},
        style:{fill:`rgba(${GREEN},${alpha})`}};
    }});
}
const allRA=raP.concat(raL), allDE=deP.concat(deL), allA=pmaP.concat(pmaL), allD=pmdP.concat(pmdL);
const legendBox={show:true,z:30,selectedMode:false,backgroundColor:'rgba(255,255,255,0.8)',borderColor:'#ccc',borderWidth:1.3,borderRadius:5};

// row 1
hist(0,0,raEdges,raAll,raP50,raLines,{min:106.862,max:108.592,inv:1,ticks:raHistTicks,dec:1,name:nRA},37.45,[0,5,10,15,20,25,30,35]);
hist(0,1,deEdges,deAll,deP50,deLines,{min:-10.575,max:-8.647,ticks:deHistTicks,dec:1,name:nDE},43.98,[0,10,20,30,40]);
let g=panel(0,2,{min:106.846,max:108.608,inv:1,ticks:raTicks,dec:1,name:nRA},{min:-10.582,max:-8.64,ticks:deTicks,dec:2,name:nDE,gap:96});
dots(g,allRA,allDE,0.45,3);dots(g,raP,deP,0.7,4);
g=panel(0,3,{min:102.179,max:111.353,inv:1,ticks:[110,108,106,104],dec:0,name:nRA},{min:-15.163,max:-6.163,ticks:[-8,-10,-12,-14],dec:0,name:nDE,gap:61});
poly(g,fieldRA,fieldDE,'#808080',1);
series.push({type:'scatter',xAxisIndex:g,yAxisIndex:g,z:2,silent:true,animation:false,symbolSize:58,data:filRA.map((v,i)=>[v,filDE[i]]),
  itemStyle:{color:{type:'radial',x:0.5,y:0.5,r:0.5,colorStops:[{offset:0,color:'rgba(255,255,255,0.2)'},{offset:0.5,color:'rgba(255,255,255,0.09)'},{offset:1,color:'rgba(255,255,255,0)'}]}}});
specks(g,fieldSpecks,'rgba(255,255,255,0.22)',3.4,2);
dots(g,allRA,allDE,0.45,3,'all');dots(g,raP,deP,0.7,4,'P  ≥  50%');
legend.push(Object.assign({},legendBox,{left:1744,top:367,orient:'vertical',padding:[8,10,8,27],itemWidth:8,itemHeight:8,itemGap:10,
  textStyle:{fontFamily:F,fontSize:21,color:K,padding:[0,0,0,32],lineHeight:22},
  data:[{name:'all',icon:'circle',itemStyle:{color:`rgba(${GREEN},0.45)`}},{name:'P  ≥  50%',icon:'circle',itemStyle:{color:`rgba(${GREEN},0.75)`}}]}));

// row 2
hist(1,0,pmaEdges,pmaAll,pmaP50,pmaLines,{min:-6.158,max:-4.794,ticks:[-6,-5.5,-5],dec:1,name:nPMA,gap:35},36.3,[0,5,10,15,20,25,30,35]);
hist(1,1,pmdEdges,pmdAll,pmdP50,pmdLines,{min:1.927,max:3.153,ticks:[2,2.25,2.5,2.75,3],dec:2,name:nPMD,gap:35},34.13,[0,5,10,15,20,25,30]);
g=panel(1,2,{min:-6.166,max:-4.779,ticks:[-6,-5.5,-5],dec:1,name:nPMA,gap:35},{min:1.92,max:3.155,ticks:[2,2.2,2.4,2.6,2.8,3],dec:1,name:nPMD,gap:49});
dots(g,allA,allD,0.45,3);dots(g,pmaP,pmdP,0.7,4);
g=panel(1,3,{min:-16.585,max:16.585,ticks:[-10,0,10],dec:0,name:nPMA,gap:35},{min:-16.53,max:16.53,ticks:[-15,-10,-5,0,5,10,15],dec:0,name:nPMD,gap:60});
poly(g,outerX,outerY,'rgba(128,128,128,0.15)',1,0,30);
poly(g,midX,midY,'rgba(128,128,128,0.5)',1,0.5,36);
poly(g,innerX,innerY,'rgba(128,128,128,0.5)',1,0.5,24);
poly(g,coreX,coreY,'#808080',1,0.5,14);
specks(g,gapSpecks,'rgba(255,255,255,0.35)',3.2,2);
specks(g,sparseStars,'rgba(128,128,128,0.7)',3.2,2);
dots(g,allA,allD,0.45,3);dots(g,pmaP,pmdP,0.7,4);

// row 3
const stride=i=>(i*41)%148;
g=panel(2,0,{min:106.831,max:108.947,inv:1,ticks:raTicks,dec:1,name:nRA},{min:-10.537,max:-8.56,ticks:deTicks,dec:2,name:nDE,gap:97});
arrows(g,raP,deP,pmaP,pmdP,0.65,9.9,'pm',4,stride);arrows(g,raL,deL,pmaL,pmdL,0.38,9.9,undefined,3);
legend.push(Object.assign({},legendBox,{left:372,top:1367,padding:[9,17,9,9],itemWidth:45,itemHeight:17,
  textStyle:{fontFamily:F,fontSize:NS,color:K,padding:[0,0,0,12],lineHeight:22},data:[{name:'pm',icon:'rect',itemStyle:{color:`rgba(${GREEN},0.6)`}}]}));
g=panel(2,1,{min:106.835,max:108.951,inv:1,ticks:raTicks,dec:1,name:nRA},{min:-10.537,max:-8.56,ticks:deTicks,dec:2,name:nDE,gap:96});
arrows(g,raP,deP,pmaP,pmdP,0.65,8.7,'Vt',4,stride);arrows(g,raL,deL,pmaL,pmdL,0.38,8.7,undefined,3);
legend.push(Object.assign({},legendBox,{left:865,top:1363,padding:[11,10,11,9],itemWidth:45,itemHeight:17,
  formatter:()=>'{t|V}{si|t}',textStyle:{fontFamily:F,fontSize:NS,color:K,padding:[0,0,0,12],rich},data:[{name:'Vt',icon:'rect',itemStyle:{color:`rgba(${GREEN},0.6)`}}]}));
hist(2,2,avEdges,avAll,avP50,avLines,{min:0.056,max:0.649,ticks:[0.2,0.4,0.6],dec:1,name:'{t|A}{s|V}{t| (mag)}',gap:33},27.6,[0,5,10,15,20,25]);
hist(2,3,probEdges,probAll,probP50,null,{min:0,max:100,ticks:[0,25,50,75,100],dec:0,name:'{t|Membership Probability (%)}'},122,[0,20,40,60,80,100,120],nN,55);

// row 4
hist(3,0,plxEdges,plxAll,plxP50,plxLines,{min:1.16,max:2.013,ticks:[1.2,1.4,1.6,1.8,2],dec:1,name:'{i|ϖ}{t| (mas)}',gap:32},52.8,[0,10,20,30,40,50]);
hist(3,1,d1Edges,d1All,d1P50,d1Lines,{min:479,max:807,ticks:[500,600,700,800],dec:0,name:'{t|Distance 1/}{i|ϖ}{t|(pc)}',gap:32},68.1,[0,10,20,30,40,50,60]);
hist(3,2,dbjEdges,dbjAll,dbjP50,dbjLines,{min:481.2,max:814.3,ticks:[500,600,700,800],dec:0,name:'{t|Distance}{s|BJ}{t| (pc)}',gap:32},58.3,[0,10,20,30,40,50]);
g=panel(3,3,{min:-90,max:1890,ticks:[0,500,1000,1500],dec:0,name:'{t|Distance - 1/}{i|ϖ}{t| (pc)}',gap:32},{min:-90,max:1890,ticks:[0,250,500,750,1000,1250,1500,1750],dec:0,name:'{t|Distance - Bayler-Jones (pc)}',gap:67});
series.push({type:'line',xAxisIndex:g,yAxisIndex:g,z:5,silent:true,symbol:'none',animation:false,data:[[oneToOne[0],oneToOne[0]],[oneToOne[1],oneToOne[1]]],lineStyle:{color:'#000',width:1.4,type:[5,2.5]}});
dots(g,distPlx,distBJ,0.7,3,undefined,9);

const title={show:true,left:135,top:27,text:
 '{m|CMa00 - N = 152 stars, N}{b|50}{m| = 148 stars, N}{b|50}{m|/N = 97%, RA = 107.706, DE = -9.363, pmRA = -5.51, pmDE = 2.58, D = 570 pc, A}{b|V}{m| = 0.269 mag}',
 textStyle:{fontFamily:F,fontSize:25,fontWeight:'normal',color:K,rich:{
   m:{fontFamily:F,fontSize:25,fontWeight:'normal',color:K,lineHeight:28},
   b:{fontFamily:F,fontSize:18.5,fontWeight:'normal',color:K,verticalAlign:'bottom',lineHeight:20}}}};

const chart=echarts.init(document.getElementById('c'),null,{renderer:'canvas',width:2000,height:2000});
chart.setOption({animation:false,backgroundColor:'#fff',title,grid,xAxis,yAxis,series,legend,tooltip:{show:false}});
</script></body></html>
